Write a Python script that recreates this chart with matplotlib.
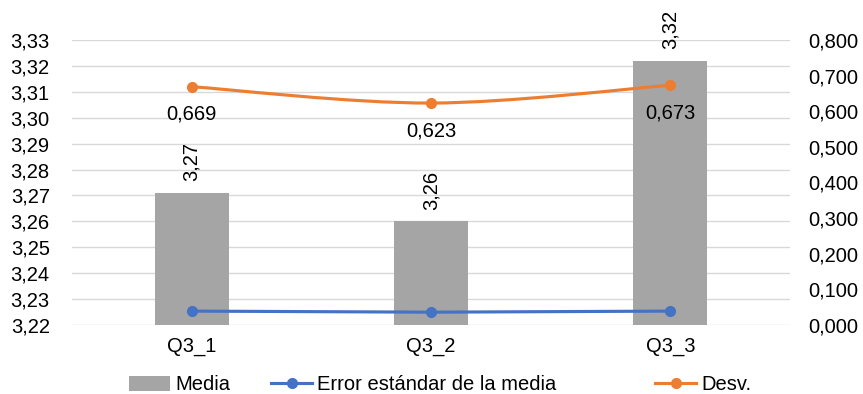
import matplotlib
matplotlib.use("Agg")
import matplotlib.pyplot as plt
from matplotlib.path import Path
from matplotlib.patches import PathPatch, Patch
from matplotlib.lines import Line2D
import numpy as np

categories = ["Q3_1", "Q3_2", "Q3_3"]
media = [3.271, 3.260, 3.322]
error_std = [0.039, 0.036, 0.039]
desv = [0.669, 0.623, 0.673]

left_ticks = [3.22, 3.23, 3.24, 3.25, 3.26, 3.27, 3.28, 3.29, 3.30, 3.31, 3.32, 3.33]
right_ticks = [0.0, 0.1, 0.2, 0.3, 0.4, 0.5, 0.6, 0.7, 0.8]

BAR = "#a5a5a5"
BLUE = "#4472c4"
ORANGE = "#ed7d31"
GRID = "#d9d9d9"

plt.rcParams["font.family"] = ["Liberation Sans", "DejaVu Sans"]
plt.rcParams["font.size"] = 14.5

W, H = 863, 394
fig = plt.figure(figsize=(W / 100, H / 100), dpi=100)
ax = fig.add_axes([72 / W, 1 - 325 / H, 718 / W, 285 / H])
ax2 = ax.twinx()

x = np.arange(len(categories))

def comma(v, nd):
    return f"{v:.{nd}f}".replace(".", ",")

# Primary axis: mean bars
ax.set_ylim(3.22, 3.33)
ax.set_xlim(-0.5, len(categories) - 0.5)
ax.set_yticks(left_ticks)
ax.set_yticklabels([comma(t, 2) for t in left_ticks])
ax.yaxis.grid(True, color=GRID, linewidth=1.0)
ax.set_axisbelow(True)
ax.bar(x, [m - 3.22 for m in media], bottom=3.22, width=0.31, color=BAR, zorder=2)
ax.set_xticks(x)
ax.set_xticklabels(categories)
for s in ax.spines.values():
    s.set_visible(False)
ax.tick_params(axis="both", length=0)
ax.tick_params(axis="y", pad=16)
ax.tick_params(axis="x", pad=9)
for xi, m in zip(x, media):
    ax.annotate(comma(m, 2), (xi, m), xytext=(0, 8.5), textcoords="offset points",
                rotation=90, ha="center", va="bottom", annotation_clip=False)

# Secondary axis: standard error and deviation
ax2.set_ylim(0, 0.8)
ax2.set_yticks(right_ticks)
ax2.set_yticklabels([comma(t, 3) for t in right_ticks])
for s in ax2.spines.values():
    s.set_visible(False)
ax2.tick_params(axis="y", length=0, pad=13)

ax2.plot(x, error_std, color=BLUE, linewidth=2.25, marker="o", markersize=7, zorder=3)

# Smoothed deviation line (Catmull-Rom segments as cubic Bezier curves)
pts = np.column_stack([x, desv]).astype(float)
ext = np.vstack([pts[0], pts, pts[-1]])
verts = [tuple(pts[0])]
codes = [Path.MOVETO]
for i in range(1, len(ext) - 2):
    p0, p1, p2, p3 = ext[i - 1], ext[i], ext[i + 1], ext[i + 2]
    c1 = p1 + (p2 - p0) / 6.0
    c2 = p2 - (p3 - p1) / 6.0
    verts += [tuple(c1), tuple(c2), tuple(p2)]
    codes += [Path.CURVE4] * 3
ax2.add_patch(PathPatch(Path(verts, codes), facecolor="none", edgecolor=ORANGE,
                        linewidth=2.25, capstyle="round", zorder=3))
ax2.plot(x, desv, linestyle="none", color=ORANGE, marker="o", markersize=7, zorder=4)
for xi, d in zip(x, desv):
    ax2.annotate(comma(d, 3), (xi, d), xytext=(0, -13), textcoords="offset points",
                 ha="center", va="top")

# Legend entries placed along the bottom edge
entries = [
    (Patch(facecolor=BAR, edgecolor="none"), "Media", 129),
    (Line2D([], [], color=BLUE, linewidth=2.25, marker="o", markersize=7),
     "Error estándar de la media", 271),
    (Line2D([], [], color=ORANGE, linewidth=2.25, marker="o", markersize=7), "Desv.", 655),
]
for handle, label, xpos in entries:
    fig.legend([handle], [label], loc="center left", bbox_to_anchor=(xpos / W, 1 - 385 / H),
               frameon=False, borderpad=0, borderaxespad=0, handlelength=2.05,
               handletextpad=0.25)

fig.savefig("out.png", dpi=100)
